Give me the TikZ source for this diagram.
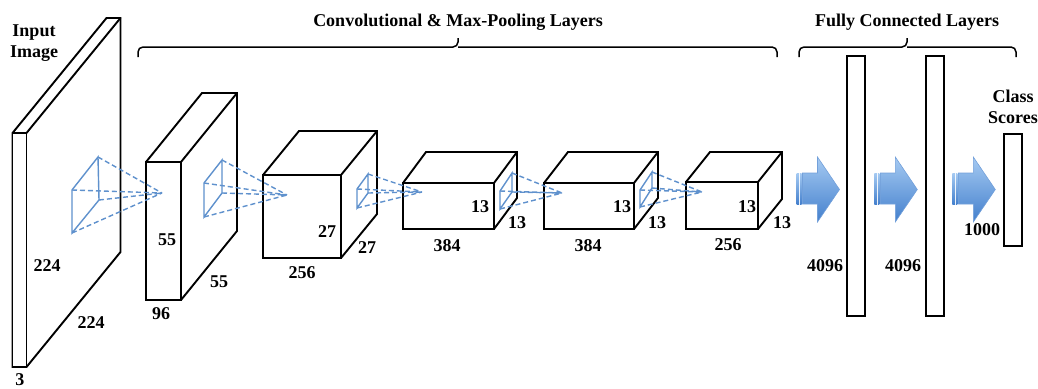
\documentclass[tikz,border=0pt]{standalone}
\usepackage{fontspec}
\setmainfont{Liberation Serif}

\definecolor{kernblue}{RGB}{95,145,205}
\definecolor{arrowtop}{RGB}{165,202,242}
\definecolor{arrowbot}{RGB}{68,128,205}
\definecolor{arrowedge}{RGB}{115,160,218}

% layer volume: x, y (front top left), width, height, depth dx, depth dy
\newcommand{\layerbox}[6]{%
  \filldraw[box] (#1,#2) -- ++(#5,-#6) -- ++(#3,0) -- ++(0,#4) -- ++(-#5,#6) -- ++(-#3,0) -- cycle;
  \draw[box] (#1,#2) rectangle ++(#3,#4);
  \draw[box] (#1+#3,#2) -- ++(#5,-#6);
}
% kernel cone: name, front top, front bottom, back top, back bottom, tip
\newcommand{\kernelcone}[6]{%
  \coordinate (#1a) at (#2);
  \coordinate (#1b) at (#3);
  \coordinate (#1c) at (#4);
  \coordinate (#1d) at (#5);
  \coordinate (#1t) at (#6);
  \draw[kern] (#1a) -- (#1b) -- (#1d) -- (#1c) -- cycle;
  \draw[kern, cone] (#1a) -- (#1t) (#1b) -- (#1t) (#1c) -- (#1t) (#1d) -- (#1t);
}
% striped block arrow, tail at x
\newcommand{\fcarrow}[1]{%
  \shade[top color=arrowtop, bottom color=arrowbot, draw=arrowedge, line width=0.6pt]
    (#1+6,173) -- (#1+21,173) -- (#1+21,157) -- (#1+43,189.5) -- (#1+21,222) -- (#1+21,204) -- (#1+6,204) -- cycle;
  \shade[top color=arrowtop, bottom color=arrowbot] (#1,173) rectangle (#1+2.5,204);
  \shade[top color=arrowtop, bottom color=arrowbot] (#1+3.5,173) rectangle (#1+5,204);
}

\begin{document}
\begin{tikzpicture}[x=1pt, y=-1pt,
    box/.style={draw=black, fill=white, line width=1.9pt, line join=miter},
    bar/.style={draw=black, fill=white, line width=1.9pt, inner sep=0pt},
    kern/.style={draw=kernblue, line width=1.4pt},
    cone/.style={dash pattern=on 5pt off 3pt},
    lbl/.style={font=\bfseries\fontsize{18}{21}\selectfont, inner sep=0pt, align=center},
    brace/.style={line width=1.5pt, rounded corners=5pt}]
  \useasboundingbox (0,0) rectangle (1038,388);

  % Volumes
  \layerbox{12.5}{133}{14}{234}{94}{115}
  \layerbox{146}{162}{35}{138}{56}{69}
  \layerbox{263}{175}{78}{83}{36}{44}
  \layerbox{403}{183}{91}{46}{23}{31}
  \layerbox{544}{183}{90}{46}{24}{31}
  \layerbox{686}{182}{72}{47}{24}{30}

  % Kernels
  \kernelcone{ka}{72,190}{72,233}{98,157}{99,200}{162,193}
  \kernelcone{kb}{204,183}{204,217}{222,160}{222,193}{287,195}
  \kernelcone{kc}{357,189}{357,208}{368,174}{368,193}{422,192}
  \kernelcone{kd}{500,191}{500,209}{512,173}{512,192}{562,193}
  \kernelcone{ke}{640,190}{640,207}{652,172}{652,188}{702,192}

  % Fully connected
  \node[bar, minimum width=18pt, minimum height=260pt] (fc1) at (856,186) {};
  \node[bar, minimum width=18pt, minimum height=260pt] (fc2) at (935,186) {};
  \node[bar, minimum width=18pt, minimum height=112pt] (out) at (1013,190) {};
  \fcarrow{796.5}
  \fcarrow{874.3}
  \fcarrow{952.3}

  % Braces
  \draw[brace] (138,57) |- (458,47) -- (458,38);
  \draw[brace] (777,57) |- (458,47);
  \draw[brace] (799,57) |- (907,47) -- (907,38);
  \draw[brace] (1016,57) |- (907,47);

  % Labels
  \node[lbl] (conv) at (458,22) {Convolutional \& Max-Pooling Layers};
  \node[lbl] (fc) at (907,22) {Fully Connected Layers};
  \node[lbl] (input) at (34,43) {Input\\Image};
  \node[lbl] (class) at (1013,107) {Class\\Scores};
  \node[lbl] (inh) at (47,266) {224};
  \node[lbl] (inw) at (91,323) {224};
  \node[lbl] (ind) at (20,380) {3};
  \node[lbl] (ah) at (167,240) {55};
  \node[lbl] (aw) at (219,282) {55};
  \node[lbl] (ad) at (161,314) {96};
  \node[lbl] (bh) at (327,232) {27};
  \node[lbl] (bw) at (367,248) {27};
  \node[lbl] (bd) at (302,273) {256};
  \node[lbl] (ch) at (480,207) {13};
  \node[lbl] (cw) at (517,223) {13};
  \node[lbl] (cd) at (447,246) {384};
  \node[lbl] (dh) at (622,207) {13};
  \node[lbl] (dw) at (657,223) {13};
  \node[lbl] (dd) at (588,246) {384};
  \node[lbl] (eh) at (747,207) {13};
  \node[lbl] (ew) at (782,223) {13};
  \node[lbl] (ed) at (728,245) {256};
  \node[lbl] (fc1n) at (825,266) {4096};
  \node[lbl] (fc2n) at (903,266) {4096};
  \node[lbl] (outn) at (982,230) {1000};
\end{tikzpicture}
\end{document}
